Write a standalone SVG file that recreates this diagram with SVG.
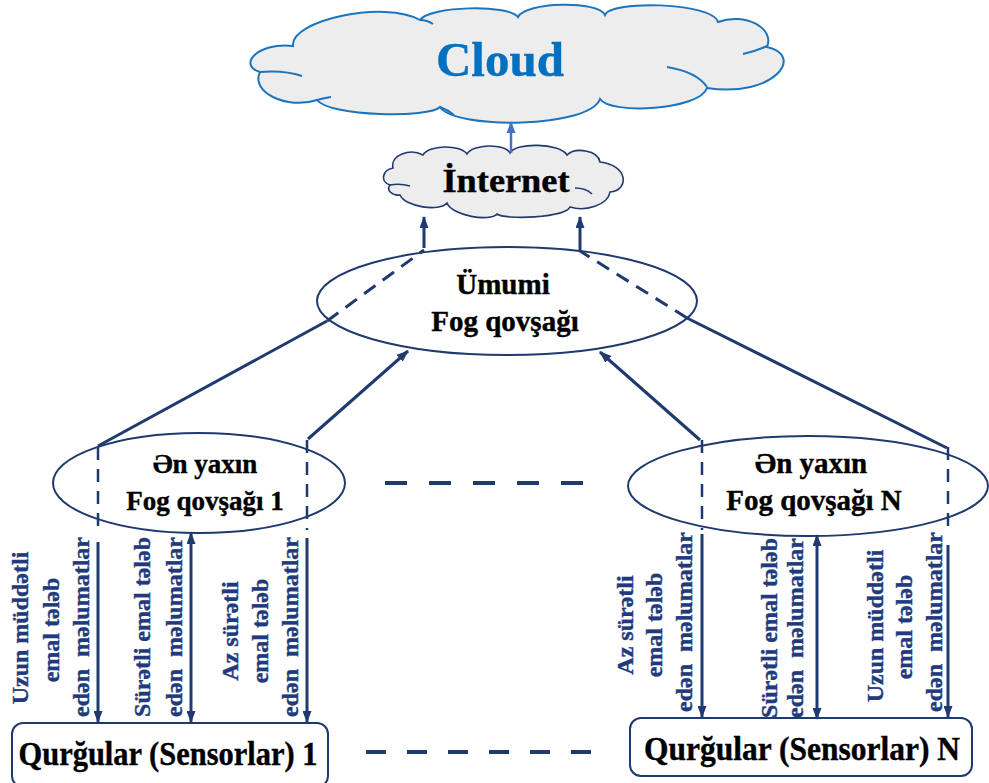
<svg xmlns="http://www.w3.org/2000/svg" width="989" height="783" viewBox="0 0 989 783">
  <style>
    .cloud { fill: #ededed; stroke: #1c75bc; stroke-width: 2; }
    .cloud2 { fill: #ededed; stroke: #1f3a6e; stroke-width: 1.6; }
    .inner { fill: none; stroke: #1c75bc; stroke-width: 2; }
    .inner2 { fill: none; stroke: #1f3a6e; stroke-width: 1.6; }
    .node { fill: #ffffff; stroke: #1f3a6e; stroke-width: 2; }
    .ln { fill: none; stroke: #1f3a6e; stroke-width: 3; }
    .dash { fill: none; stroke: #1f3a6e; stroke-width: 3; stroke-dasharray: 14 9; }
    .dashv { fill: none; stroke: #1f3a6e; stroke-width: 2.5; stroke-dasharray: 13 9; }
    .dashh { fill: none; stroke: #1f3a6e; stroke-width: 4; stroke-dasharray: 22 22; }
    .lbl { font-family: "Liberation Serif", "Times New Roman", serif; font-weight: bold; fill: #000000; stroke: #000000; stroke-width: 0.4; text-anchor: middle; }
    .vt { font-family: "Liberation Serif", "Times New Roman", serif; font-weight: bold; font-size: 24px; fill: #203a7c; stroke: #203a7c; stroke-width: 0.4; text-anchor: middle; white-space: pre; }
  </style>
  <defs>
    <marker id="ah" viewBox="0 0 12 9" refX="11" refY="4.5" markerWidth="12" markerHeight="9" markerUnits="userSpaceOnUse" orient="auto-start-reverse">
      <path d="M0,0 L12,4.5 L0,9 z" fill="#1f3a6e"/>
    </marker>
    <marker id="ahb" viewBox="0 0 12 9" refX="11" refY="4.5" markerWidth="12" markerHeight="9" markerUnits="userSpaceOnUse" orient="auto">
      <path d="M0,0 L12,4.5 L0,9 z" fill="#4472c4"/>
    </marker>
  </defs>

  <!-- Cloud -->
  <g id="cloud">
    <path class="cloud" d="M260,72 C238,66 256,42 293,46 C290,20 385,0 420,20 C430,6 508,4 518,17 C525,2 598,0 605,15 C610,0 712,2 718,22 C745,12 775,28 767,47 C805,55 775,98 707,88 C700,110 610,115 600,99 C590,128 455,130 440,107 C430,118 330,117 317,100 C287,110 250,92 260,72 Z"/>
    <path class="inner" d="M260,72 Q284,70 302,76"/>
    <path class="inner" d="M317,100 Q324,98 331,97"/>
    <path class="inner" d="M440,107 Q448,110 454,115"/>
    <path class="inner" d="M667,67 Q697,72 707,87"/>
    <path class="inner" d="M743,54 Q756,51 767,46"/>
    <path class="inner" d="M420,20 Q427,20 433,24"/>
    <text class="lbl" x="500" y="76" font-size="49" style="fill:#0070c0;stroke:#0070c0">Cloud</text>
  </g>

  <!-- Internet -->
  <g id="internet">
    <path class="cloud2" d="M390,185 C380,182 382,170 393,168 C390,155 410,148 423,155 C428,145 460,144 467,154 C472,144 505,143 510,153 C515,142 560,143 567,155 C575,147 598,150 600,162 C628,165 630,190 610,192 C608,205 585,212 570,207 C565,218 505,220 497,214 C490,222 452,216 447,203 C440,212 405,207 400,195 C392,196 386,190 390,185 Z"/>
    <path class="inner2" d="M390,185 Q400,183 410,186"/>
    <path class="inner2" d="M575,188 Q586,188 592,194"/>
    <text class="lbl" x="506" y="192" font-size="34" textLength="127" lengthAdjust="spacingAndGlyphs">İnternet</text>
  </g>

  <!-- Shared fog layer -->
  <g id="fog-common">
    <ellipse class="node" cx="507" cy="301" rx="190" ry="54"/>
    <text class="lbl" x="503" y="294" font-size="29">Ümumi</text>
    <text class="lbl" x="505" y="331" font-size="29">Fog qovşağı</text>
  </g>

  <!-- Nearest fog layer 1 -->
  <g id="fog-1">
    <ellipse class="node" cx="199" cy="483" rx="146" ry="50"/>
    <text class="lbl" x="205" y="473" font-size="27">Ən yaxın</text>
    <text class="lbl" x="205" y="510" font-size="27">Fog qovşağı 1</text>
  </g>

  <!-- Nearest fog layer N -->
  <g id="fog-n">
    <ellipse class="node" cx="808" cy="486" rx="180" ry="50"/>
    <text class="lbl" x="811" y="473" font-size="29">Ən yaxın</text>
    <text class="lbl" x="814" y="510" font-size="29">Fog qovşağı N</text>
  </g>

  <!-- Devices 1 -->
  <g id="devices-1">
    <rect class="node" x="12" y="723" width="316" height="64" rx="11"/>
    <text class="lbl" x="168" y="765" font-size="33" textLength="299" lengthAdjust="spacingAndGlyphs">Qurğular (Sensorlar) 1</text>
  </g>

  <!-- Devices N -->
  <g id="devices-n">
    <rect class="node" x="630" y="718" width="342" height="58" rx="11"/>
    <text class="lbl" x="802" y="760" font-size="33" textLength="316" lengthAdjust="spacingAndGlyphs">Qurğular (Sensorlar) N</text>
  </g>

  <!-- Connectors -->
  <g id="connectors">
    <!-- to the internet and the cloud -->
    <line x1="511" y1="153" x2="511" y2="122" stroke="#4472c4" stroke-width="2.5" marker-end="url(#ahb)"/>
    <line class="ln" x1="424" y1="248" x2="424" y2="217" marker-end="url(#ah)"/>
    <line class="ln" x1="580" y1="250" x2="580" y2="217" marker-end="url(#ah)"/>

    <!-- links between nearest and shared fog layers -->
    <line class="ln" x1="98" y1="446" x2="327" y2="321"/>
    <line class="dash" x1="327" y1="321" x2="424" y2="250"/>
    <line class="ln" x1="947" y1="448" x2="687" y2="318"/>
    <line class="dash" x1="687" y1="318" x2="580" y2="251"/>
    <line class="ln" x1="308" y1="439" x2="408" y2="351" marker-end="url(#ah)"/>
    <line class="ln" x1="700" y1="440" x2="600" y2="352" marker-end="url(#ah)"/>

    <!-- ellipsis between parallel branches -->
    <line class="dashh" x1="385" y1="483" x2="585" y2="483"/>
    <line class="dashh" x1="366" y1="752" x2="592" y2="752" style="stroke-dasharray: 20 21"/>

    <!-- branch 1 -->
    <line class="dashv" x1="98" y1="447" x2="98" y2="530"/>
    <line class="dashv" x1="307" y1="440" x2="307" y2="530"/>
    <line class="ln" x1="98" y1="542" x2="98" y2="722" marker-end="url(#ah)"/>
    <line class="ln" x1="191" y1="533" x2="191" y2="722" marker-start="url(#ah)" marker-end="url(#ah)"/>
    <line class="ln" x1="307" y1="538" x2="307" y2="722" marker-end="url(#ah)"/>

    <!-- branch N -->
    <line class="dashv" x1="702" y1="440" x2="702" y2="530"/>
    <line class="dashv" x1="948" y1="447" x2="948" y2="530"/>
    <line class="ln" x1="702" y1="534" x2="702" y2="717" marker-end="url(#ah)"/>
    <line class="ln" x1="817" y1="535" x2="817" y2="719" marker-start="url(#ah)" marker-end="url(#ah)"/>
    <line class="ln" x1="948" y1="545" x2="948" y2="717" marker-end="url(#ah)"/>
  </g>

  <!-- Data flow labels, branch 1 -->
  <g id="labels-1">
    <text class="vt" transform="translate(28,628) rotate(-90)">Uzun müddətli</text>
    <text class="vt" transform="translate(59,630) rotate(-90)">emal tələb</text>
    <text class="vt" xml:space="preserve" transform="translate(89,627) rotate(-90)">edən  məlumatlar</text>
    <text class="vt" transform="translate(150,627) rotate(-90)">Sürətli emal tələb</text>
    <text class="vt" xml:space="preserve" transform="translate(182,627) rotate(-90)">edən  məlumatlar</text>
    <text class="vt" transform="translate(238,631) rotate(-90)">Az sürətli</text>
    <text class="vt" transform="translate(268,631) rotate(-90)">emal tələb</text>
    <text class="vt" xml:space="preserve" transform="translate(298,627) rotate(-90)">edən  məlumatlar</text>
  </g>

  <!-- Data flow labels, branch N -->
  <g id="labels-n">
    <text class="vt" transform="translate(633,625) rotate(-90)">Az sürətli</text>
    <text class="vt" transform="translate(662,625) rotate(-90)">emal tələb</text>
    <text class="vt" xml:space="preserve" transform="translate(692,622) rotate(-90)">edən  məlumatlar</text>
    <text class="vt" transform="translate(777,628) rotate(-90)">Sürətli emal tələb</text>
    <text class="vt" xml:space="preserve" transform="translate(803,628) rotate(-90)">edən  məlumatlar</text>
    <text class="vt" transform="translate(883,626) rotate(-90)">Uzun müddətli</text>
    <text class="vt" transform="translate(912,627) rotate(-90)">emal tələb</text>
    <text class="vt" xml:space="preserve" transform="translate(942,622) rotate(-90)">edən  məlumatlar</text>
  </g>
</svg>
